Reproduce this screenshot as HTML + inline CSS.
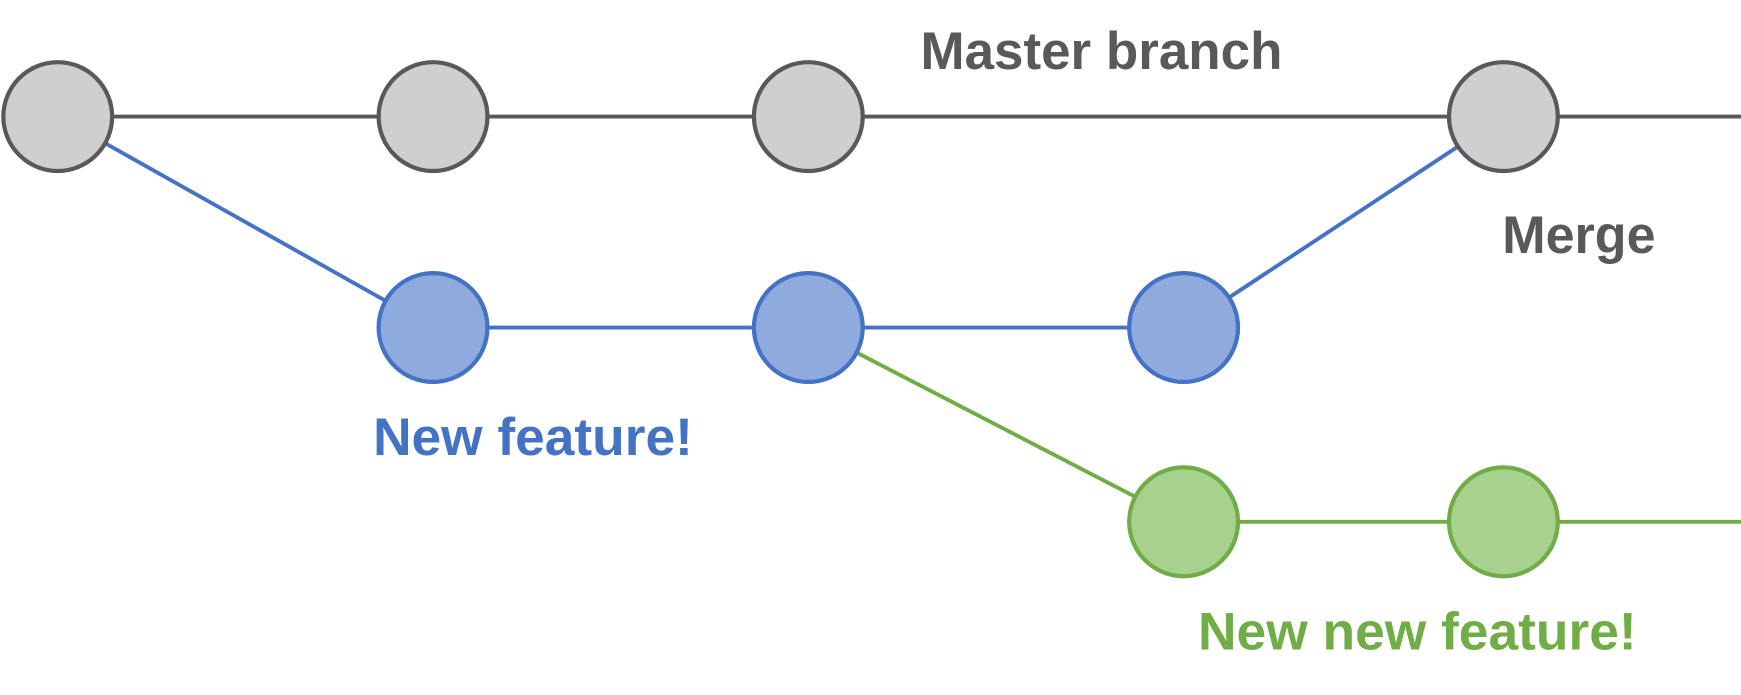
<!DOCTYPE html>
<html><head><meta charset="utf-8"><style>html,body{margin:0;padding:0;background:#fff}svg{display:block}</style></head>
<body>
<svg width="1741" height="695" viewBox="0 0 1568 626" preserveAspectRatio="none" xmlns="http://www.w3.org/2000/svg">
<g stroke-width="3.5" fill="none">
<line x1="52" y1="105" x2="1568" y2="105" stroke="#595959"/>
<line x1="52" y1="105" x2="390" y2="295" stroke="#4472c4"/>
<line x1="390" y1="295" x2="1066" y2="295" stroke="#4472c4"/>
<line x1="1066" y1="295" x2="1354" y2="105" stroke="#4472c4"/>
<line x1="728" y1="295" x2="1066" y2="470" stroke="#70ad47"/>
<line x1="1066" y1="470" x2="1568" y2="470" stroke="#70ad47"/>
</g>
<g stroke-width="3.8">
<circle cx="52" cy="105" r="49" fill="#d0cece" stroke="#595959"/>
<circle cx="390" cy="105" r="49" fill="#d0cece" stroke="#595959"/>
<circle cx="728" cy="105" r="49" fill="#d0cece" stroke="#595959"/>
<circle cx="1354" cy="105" r="49" fill="#d0cece" stroke="#595959"/>
<circle cx="390" cy="295" r="49" fill="#8faadc" stroke="#4472c4"/>
<circle cx="728" cy="295" r="49" fill="#8faadc" stroke="#4472c4"/>
<circle cx="1066" cy="295" r="49" fill="#8faadc" stroke="#4472c4"/>
<circle cx="1066" cy="470" r="49" fill="#a9d18e" stroke="#70ad47"/>
<circle cx="1354" cy="470" r="49" fill="#a9d18e" stroke="#70ad47"/>
</g>
<g font-family="Liberation Sans, Arial, sans-serif" font-weight="bold" font-size="48">
<text x="829" y="62" fill="#595959" textLength="326" lengthAdjust="spacingAndGlyphs">Master branch</text>
<text x="1353" y="228" fill="#595959" textLength="138" lengthAdjust="spacingAndGlyphs">Merge</text>
<text x="336" y="410" fill="#4472c4" textLength="288" lengthAdjust="spacingAndGlyphs">New feature!</text>
<text x="1079" y="585" fill="#70ad47" textLength="395" lengthAdjust="spacingAndGlyphs">New new feature!</text>
</g>
</svg>
</body></html>
